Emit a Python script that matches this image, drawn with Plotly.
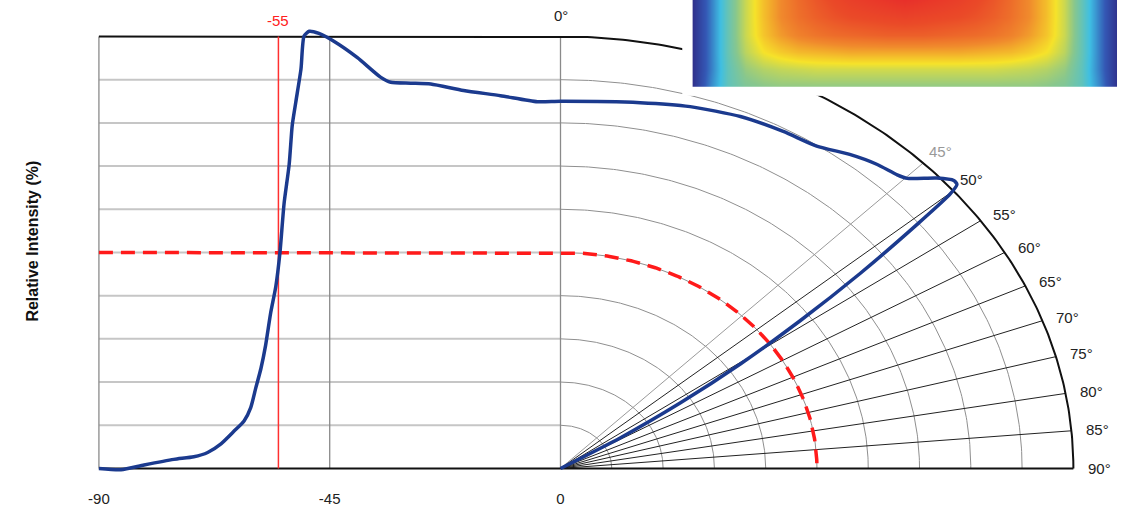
import numpy as np
import plotly.graph_objects as go

# ---------------- data ----------------
# left (cartesian) part of the intensity curve: angle (deg) vs relative intensity (%)
left_angle = [-90, -85.7, -81.2, -75.4, -71.5, -68.8, -66.2, -63.6, -61.7, -60.4, -59.4, -58.4,
              -57.5, -56.5, -55.5, -54.7, -53.9, -52.9, -52.3, -51.6, -50.6, -50.0, -49.0,
              -47.1, -44.2, -39.6, -35.1, -33.1, -29.2, -25.3, -18.9, -11.7, -4.5, 0]
left_intensity = [0, -0.3, 0.8, 2.1, 2.7, 3.7, 5.7, 8.7, 11.0, 14.1, 18.7, 23.2,
                  28.5, 36.1, 42.2, 50.0, 61.3, 70.4, 79.5, 84.9, 92.5, 100.1, 101.2,
                  100.7, 98.9, 95.1, 90.6, 89.4, 89.2, 89.0, 87.5, 86.3, 84.9, 85.0]
# right (polar) part of the curve: angle (deg from vertical) vs relative intensity (%)
right_angle = [0, 10.4, 16.8, 23.3, 29.1, 33.8, 37.8, 41.2, 44.0, 45.2, 47.5, 49.0, 49.6,
               50.1, 50.9, 52.3, 53.8, 55.4, 57.0, 58.7, 60.0]
right_intensity = [85.0, 86.1, 87.5, 88.7, 89.3, 89.8, 92.0, 93.6, 94.5, 95.3, 99.5, 101.6, 101.5,
                   99.0, 89.6, 73.9, 57.9, 42.6, 27.9, 13.7, 0]

cutoff_angle = -55          # red vertical marker
cutoff_level = 50           # red dashed 50 % contour
grid_levels = [10, 20, 30, 40, 50, 60, 70, 80, 90]
vertical_grid = [-90, -45, 0]
x_tick_vals = [-90, -45, 0]
x_tick_text = ["-90", "-45", "0"]
polar_angles = [45, 50, 55, 60, 65, 70, 75, 80, 85]
polar_labels = ["45°", "50°", "55°", "60°", "65°", "70°", "75°", "80°", "85°", "90°"]
label_angles = [45, 50, 55, 60, 65, 70, 75, 80, 85, 90]

# beam-profile image (relative values), 25 columns x 6 rows, top row first
hm_z = [
    [0.02, 0.20, 0.38, 0.54, 0.66, 0.75, 0.82, 0.87, 0.91, 0.94, 0.96, 0.98, 1.00,
     0.98, 0.96, 0.94, 0.91, 0.87, 0.82, 0.75, 0.66, 0.54, 0.38, 0.20, 0.02],
    [0.02, 0.20, 0.38, 0.54, 0.66, 0.75, 0.81, 0.85, 0.88, 0.90, 0.91, 0.92, 0.93,
     0.92, 0.91, 0.90, 0.88, 0.85, 0.81, 0.75, 0.66, 0.54, 0.38, 0.20, 0.02],
    [0.02, 0.20, 0.38, 0.54, 0.65, 0.72, 0.77, 0.80, 0.82, 0.83, 0.84, 0.85, 0.85,
     0.85, 0.84, 0.83, 0.82, 0.80, 0.77, 0.72, 0.65, 0.54, 0.38, 0.20, 0.02],
    [0.02, 0.20, 0.38, 0.52, 0.60, 0.64, 0.67, 0.68, 0.69, 0.70, 0.70, 0.70, 0.70,
     0.70, 0.70, 0.70, 0.69, 0.68, 0.67, 0.64, 0.60, 0.52, 0.38, 0.20, 0.02],
    [0.02, 0.20, 0.37, 0.47, 0.51, 0.53, 0.54, 0.55, 0.55, 0.55, 0.55, 0.55, 0.55,
     0.55, 0.55, 0.55, 0.55, 0.55, 0.54, 0.53, 0.51, 0.47, 0.37, 0.20, 0.02],
    [0.02, 0.22, 0.37, 0.43, 0.45, 0.46, 0.46, 0.46, 0.46, 0.46, 0.46, 0.46, 0.46,
     0.46, 0.46, 0.46, 0.46, 0.46, 0.46, 0.46, 0.45, 0.43, 0.37, 0.22, 0.02],
]
hm_rows = [0, 0.2, 0.4, 0.6, 0.8, 1.0]

# ---------------- layout helpers ----------------
W, H = 1127, 507
FONT = "Arial, Liberation Sans, sans-serif"


def px_x(p):
    return p / W


def px_y(p):
    return (H - p) / H


def polar_xy(theta_deg, r):
    t = np.radians(np.asarray(theta_deg, dtype=float))
    r = np.asarray(r, dtype=float)
    return r * np.sin(t), r * np.cos(t)


hm_cols = [i / (len(hm_z[0]) - 1) for i in range(len(hm_z[0]))]

fig = go.Figure()

# horizontal grid lines (left part)
gx, gy = [], []
for lv in grid_levels:
    gx += [-90, 0, None]
    gy += [lv, lv, None]
fig.add_trace(go.Scatter(x=gx, y=gy, mode="lines", line=dict(color="#c6c6c6", width=2),
                         hoverinfo="skip"))

# concentric arcs (right part)
th = np.linspace(0, 90, 181)
ax_, ay_ = [], []
for lv in grid_levels:
    xx, yy = polar_xy(th, lv)
    ax_ += list(xx) + [None]
    ay_ += list(yy) + [None]
fig.add_trace(go.Scatter(x=ax_, y=ay_, mode="lines", line=dict(color="#8f8f8f", width=1),
                         hoverinfo="skip"))

# vertical grid lines
vx, vy = [], []
for v in vertical_grid:
    vx += [v, v, None]
    vy += [0, 100, None]
fig.add_trace(go.Scatter(x=vx, y=vy, mode="lines", line=dict(color="#8a8a8a", width=1.3),
                         hoverinfo="skip"))

# radial lines
for a in polar_angles:
    xx, yy = polar_xy([a, a], [0, 100])
    fig.add_trace(go.Scatter(x=xx, y=yy, mode="lines",
                             line=dict(color="#9a9a9a" if a == 45 else "#222222", width=1),
                             hoverinfo="skip"))

# frame: top line + outer arc, bottom axis line
ox, oy = polar_xy(th, 100)
fig.add_trace(go.Scatter(x=[-90] + list(ox), y=[100] + list(oy), mode="lines",
                         line=dict(color="#111111", width=2), hoverinfo="skip"))
fig.add_trace(go.Scatter(x=[-90, 100], y=[0, 0], mode="lines",
                         line=dict(color="#111111", width=2), hoverinfo="skip"))

# red cutoff marker
fig.add_trace(go.Scatter(x=[cutoff_angle, cutoff_angle], y=[0, 100], mode="lines",
                         line=dict(color="#ff3030", width=1.5), hoverinfo="skip"))
# red dashed 50 % contour
cx, cy = polar_xy(th, cutoff_level)
fig.add_trace(go.Scatter(x=[-90] + list(cx), y=[cutoff_level] + list(cy), mode="lines",
                         line=dict(color="#ff1a1a", width=3.5, dash="14px,8px"),
                         hoverinfo="skip"))

# blue intensity curve
rx, ry = polar_xy(right_angle, right_intensity)
bx = list(left_angle) + list(rx[1:])
by = list(left_intensity) + list(ry[1:])
fig.add_trace(go.Scatter(x=bx, y=by, mode="lines",
                         line=dict(color="#1b3a8e", width=3.5, shape="spline", smoothing=0.6),
                         hoverinfo="skip"))

# white padding box behind the image (subplot 2)
fig.add_trace(go.Scatter(x=[0, 1, 1, 0, 0], y=[0, 0, 1, 1, 0], mode="lines", fill="toself",
                         fillcolor="white", line=dict(width=0, color="white"),
                         xaxis="x2", yaxis="y2", hoverinfo="skip"))

# beam profile image (subplot 3)
fig.add_trace(go.Heatmap(x=hm_cols, y=hm_rows, z=hm_z, zsmooth="best", showscale=False,
                         zmin=0, zmax=1, xaxis="x3", yaxis="y3", hoverinfo="skip",
                         colorscale=[[0, "#2f2b86"], [0.15, "#3458b5"], [0.3, "#3fbfe3"],
                                     [0.45, "#88c78e"], [0.6, "#f6e32a"], [0.75, "#f08a2c"],
                                     [0.9, "#ea4a28"], [1.0, "#e8302a"]]))

# annotations
ann = []
for a, t in zip(label_angles, polar_labels):
    xx, yy = polar_xy(a - (0.8 if a <= 50 else 0), 102.5)
    ann.append(dict(x=float(xx), y=float(yy), xref="x", yref="y", text=t, showarrow=False,
                    xanchor="left", yanchor="middle",
                    font=dict(family=FONT, size=15, color="#999999" if a == 45 else "#222222")))
ann.append(dict(x=0.1, y=104.8, xref="x", yref="y", text="0°", showarrow=False,
                xanchor="center", yanchor="middle", font=dict(family=FONT, size=15, color="#222222")))
ann.append(dict(x=cutoff_angle, y=103.8, xref="x", yref="y", text=str(cutoff_angle), showarrow=False,
                xanchor="center", yanchor="middle", font=dict(family=FONT, size=15, color="#ff2020")))
ann.append(dict(x=px_x(32), y=px_y(244), xref="paper", yref="paper",
                text="<b>Relative Intensity (%)</b>", textangle=-90, showarrow=False,
                xanchor="center", yanchor="middle", font=dict(family=FONT, size=16, color="#111111")))

ux = 5.1333   # px per unit (x)
uy = 4.38     # px per unit (y)
XMIN, XMAX = -92, 110
fig.update_layout(
    width=W, height=H, margin=dict(l=0, r=0, t=0, b=0),
    paper_bgcolor="white", plot_bgcolor="white", showlegend=False, hovermode=False,
    annotations=ann,
    xaxis=dict(domain=[px_x(560 + XMIN * ux), px_x(560 + XMAX * ux)], range=[XMIN, XMAX],
               showgrid=False, zeroline=False, showline=False, tickvals=x_tick_vals,
               ticktext=x_tick_text, ticks="", ticklabelstandoff=11,
               tickfont=dict(family=FONT, size=15, color="#222222")),
    yaxis=dict(domain=[px_y(475 + 2 * uy), px_y(475 - 108 * uy)], range=[-2, 108],
               showgrid=False, zeroline=False, showline=False, showticklabels=False, ticks=""),
    xaxis2=dict(domain=[px_x(682), 1], range=[0, 1], visible=False),
    yaxis2=dict(domain=[px_y(97), 1], range=[0, 1], visible=False),
    xaxis3=dict(domain=[px_x(692), px_x(1117)], range=[0, 1], visible=False),
    yaxis3=dict(domain=[px_y(88), 1], range=[1, 0], visible=False),
)

fig.write_html("out.html", config={"displayModeBar": False},
               post_script="document.body.style.margin='0';")
